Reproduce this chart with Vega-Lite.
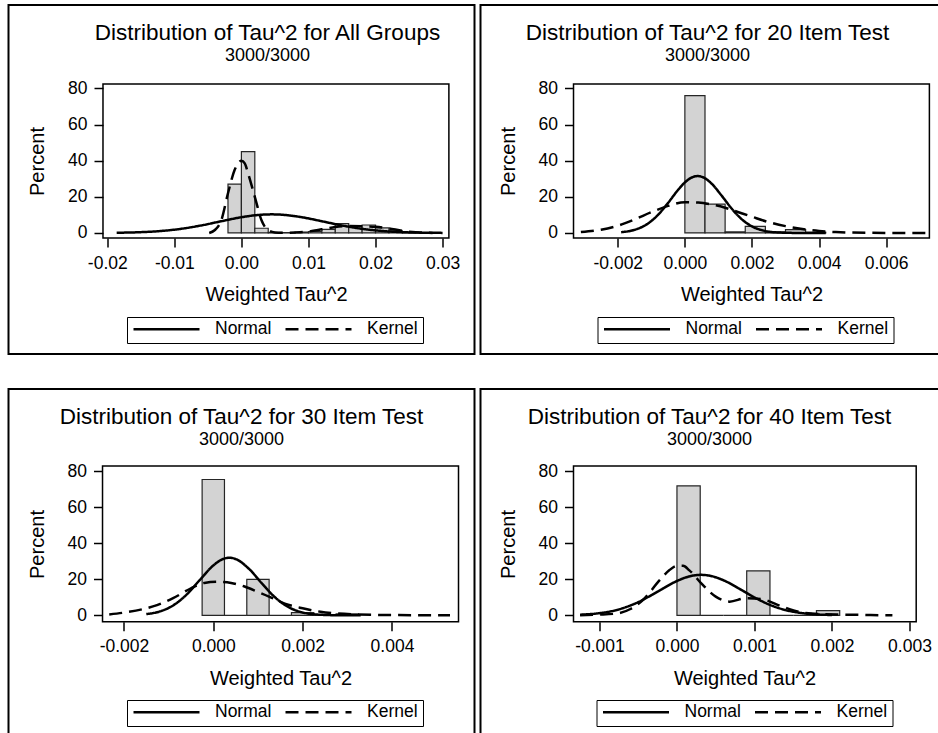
{
"$schema": "https://vega.github.io/schema/vega-lite/v6.json",
"background": "white",
"padding": {"left": 7.5, "top": 4, "right": 0, "bottom": 0},
"columns": 2,
"spacing": {"row": 33, "column": 4},
"resolve": {"scale": {"strokeDash": "independent"}, "legend": {"strokeDash": "independent"}},
"datasets": {
"bars": [
{"panel":"p1","lo":-0.002,"hi":0.0,"pct":27},
{"panel":"p1","lo":0.0,"hi":0.002,"pct":45},
{"panel":"p1","lo":0.002,"hi":0.004,"pct":2.6},
{"panel":"p1","lo":0.004,"hi":0.006,"pct":0.3},
{"panel":"p1","lo":0.006,"hi":0.008,"pct":0.2},
{"panel":"p1","lo":0.008,"hi":0.010,"pct":0.5},
{"panel":"p1","lo":0.010,"hi":0.012,"pct":0.8},
{"panel":"p1","lo":0.012,"hi":0.014,"pct":2.0},
{"panel":"p1","lo":0.014,"hi":0.016,"pct":5.2},
{"panel":"p1","lo":0.016,"hi":0.018,"pct":3.6},
{"panel":"p1","lo":0.018,"hi":0.020,"pct":4.4},
{"panel":"p1","lo":0.020,"hi":0.022,"pct":2.8},
{"panel":"p1","lo":0.022,"hi":0.024,"pct":1.2},
{"panel":"p1","lo":0.024,"hi":0.026,"pct":0.3},
{"panel":"p2","lo":0.0,"hi":0.0006,"pct":76},
{"panel":"p2","lo":0.0006,"hi":0.0012,"pct":16},
{"panel":"p2","lo":0.0012,"hi":0.0018,"pct":0.6},
{"panel":"p2","lo":0.0018,"hi":0.0024,"pct":3.6},
{"panel":"p2","lo":0.0024,"hi":0.003,"pct":0.6},
{"panel":"p2","lo":0.003,"hi":0.0036,"pct":1.8},
{"panel":"p2","lo":0.0036,"hi":0.0042,"pct":0.4},
{"panel":"p3","lo":-0.00025,"hi":0.00025,"pct":75.5},
{"panel":"p3","lo":0.00025,"hi":0.00075,"pct":0},
{"panel":"p3","lo":0.00075,"hi":0.00125,"pct":20},
{"panel":"p3","lo":0.00125,"hi":0.00175,"pct":0},
{"panel":"p3","lo":0.00175,"hi":0.00225,"pct":1.5},
{"panel":"p3","lo":0.00225,"hi":0.00275,"pct":0.4},
{"panel":"p3","lo":0.00275,"hi":0.00325,"pct":0.8},
{"panel":"p4","lo":0.0,"hi":0.0003,"pct":72},
{"panel":"p4","lo":0.0003,"hi":0.0006,"pct":0},
{"panel":"p4","lo":0.0006,"hi":0.0009,"pct":0},
{"panel":"p4","lo":0.0009,"hi":0.0012,"pct":24.7},
{"panel":"p4","lo":0.0012,"hi":0.0015,"pct":0},
{"panel":"p4","lo":0.0015,"hi":0.0018,"pct":0},
{"panel":"p4","lo":0.0018,"hi":0.0021,"pct":2.6}
],
"curves": [
{"panel":"p1","dist":"Normal","tau2":-0.0186,"pct":0.13},
{"panel":"p1","dist":"Normal","tau2":-0.015,"pct":0.45},
{"panel":"p1","dist":"Normal","tau2":-0.012,"pct":1.1},
{"panel":"p1","dist":"Normal","tau2":-0.009,"pct":2.3},
{"panel":"p1","dist":"Normal","tau2":-0.006,"pct":4.16},
{"panel":"p1","dist":"Normal","tau2":-0.003,"pct":6.49},
{"panel":"p1","dist":"Normal","tau2":0.0,"pct":8.72},
{"panel":"p1","dist":"Normal","tau2":0.003,"pct":10.11},
{"panel":"p1","dist":"Normal","tau2":0.0045,"pct":10.3},
{"panel":"p1","dist":"Normal","tau2":0.006,"pct":10.11},
{"panel":"p1","dist":"Normal","tau2":0.009,"pct":8.72},
{"panel":"p1","dist":"Normal","tau2":0.012,"pct":6.49},
{"panel":"p1","dist":"Normal","tau2":0.015,"pct":4.16},
{"panel":"p1","dist":"Normal","tau2":0.018,"pct":2.3},
{"panel":"p1","dist":"Normal","tau2":0.021,"pct":1.1},
{"panel":"p1","dist":"Normal","tau2":0.024,"pct":0.45},
{"panel":"p1","dist":"Normal","tau2":0.027,"pct":0.16},
{"panel":"p1","dist":"Normal","tau2":0.030,"pct":0.05},
{"panel":"p1","dist":"Kernel","tau2":-0.0048,"pct":0},
{"panel":"p1","dist":"Kernel","tau2":-0.004,"pct":1.5},
{"panel":"p1","dist":"Kernel","tau2":-0.003,"pct":7},
{"panel":"p1","dist":"Kernel","tau2":-0.002,"pct":22},
{"panel":"p1","dist":"Kernel","tau2":-0.001,"pct":35},
{"panel":"p1","dist":"Kernel","tau2":-0.0005,"pct":38.5},
{"panel":"p1","dist":"Kernel","tau2":0.0,"pct":40},
{"panel":"p1","dist":"Kernel","tau2":0.0005,"pct":38.5},
{"panel":"p1","dist":"Kernel","tau2":0.001,"pct":33},
{"panel":"p1","dist":"Kernel","tau2":0.002,"pct":20},
{"panel":"p1","dist":"Kernel","tau2":0.003,"pct":7},
{"panel":"p1","dist":"Kernel","tau2":0.004,"pct":1.5},
{"panel":"p1","dist":"Kernel","tau2":0.005,"pct":0.3},
{"panel":"p1","dist":"Kernel","tau2":0.006,"pct":0.1},
{"panel":"p1","dist":"Kernel","tau2":0.008,"pct":0.3},
{"panel":"p1","dist":"Kernel","tau2":0.010,"pct":0.8},
{"panel":"p1","dist":"Kernel","tau2":0.012,"pct":2},
{"panel":"p1","dist":"Kernel","tau2":0.014,"pct":3.3},
{"panel":"p1","dist":"Kernel","tau2":0.016,"pct":3.8},
{"panel":"p1","dist":"Kernel","tau2":0.018,"pct":3.7},
{"panel":"p1","dist":"Kernel","tau2":0.020,"pct":3.4},
{"panel":"p1","dist":"Kernel","tau2":0.022,"pct":2.5},
{"panel":"p1","dist":"Kernel","tau2":0.024,"pct":1.2},
{"panel":"p1","dist":"Kernel","tau2":0.026,"pct":0.4},
{"panel":"p1","dist":"Kernel","tau2":0.0285,"pct":0.05},
{"panel":"p2","dist":"Normal","tau2":-0.0019,"pct":0.44},
{"panel":"p2","dist":"Normal","tau2":-0.0015,"pct":1.73},
{"panel":"p2","dist":"Normal","tau2":-0.0011,"pct":5.21},
{"panel":"p2","dist":"Normal","tau2":-0.0008,"pct":10.03},
{"panel":"p2","dist":"Normal","tau2":-0.0005,"pct":16.67},
{"panel":"p2","dist":"Normal","tau2":-0.0002,"pct":23.89},
{"panel":"p2","dist":"Normal","tau2":0.0,"pct":27.97},
{"panel":"p2","dist":"Normal","tau2":0.0002,"pct":30.67},
{"panel":"p2","dist":"Normal","tau2":0.00038,"pct":31.5},
{"panel":"p2","dist":"Normal","tau2":0.0006,"pct":30.27},
{"panel":"p2","dist":"Normal","tau2":0.0008,"pct":27.25},
{"panel":"p2","dist":"Normal","tau2":0.0011,"pct":20.57},
{"panel":"p2","dist":"Normal","tau2":0.0014,"pct":13.39},
{"panel":"p2","dist":"Normal","tau2":0.0017,"pct":7.52},
{"panel":"p2","dist":"Normal","tau2":0.002,"pct":3.64},
{"panel":"p2","dist":"Normal","tau2":0.0024,"pct":1.1},
{"panel":"p2","dist":"Normal","tau2":0.0028,"pct":0.26},
{"panel":"p2","dist":"Normal","tau2":0.0034,"pct":0.02},
{"panel":"p2","dist":"Normal","tau2":0.0042,"pct":0},
{"panel":"p2","dist":"Kernel","tau2":-0.0031,"pct":0.5},
{"panel":"p2","dist":"Kernel","tau2":-0.0025,"pct":1.8},
{"panel":"p2","dist":"Kernel","tau2":-0.002,"pct":4},
{"panel":"p2","dist":"Kernel","tau2":-0.0015,"pct":7.5},
{"panel":"p2","dist":"Kernel","tau2":-0.001,"pct":11.5},
{"panel":"p2","dist":"Kernel","tau2":-0.0005,"pct":15},
{"panel":"p2","dist":"Kernel","tau2":0.0,"pct":17},
{"panel":"p2","dist":"Kernel","tau2":0.0004,"pct":16.8},
{"panel":"p2","dist":"Kernel","tau2":0.0008,"pct":15.8},
{"panel":"p2","dist":"Kernel","tau2":0.0012,"pct":14},
{"panel":"p2","dist":"Kernel","tau2":0.0016,"pct":11.5},
{"panel":"p2","dist":"Kernel","tau2":0.002,"pct":9},
{"panel":"p2","dist":"Kernel","tau2":0.0025,"pct":6},
{"panel":"p2","dist":"Kernel","tau2":0.003,"pct":3.8},
{"panel":"p2","dist":"Kernel","tau2":0.0035,"pct":2.2},
{"panel":"p2","dist":"Kernel","tau2":0.004,"pct":1.1},
{"panel":"p2","dist":"Kernel","tau2":0.0045,"pct":0.5},
{"panel":"p2","dist":"Kernel","tau2":0.005,"pct":0.2},
{"panel":"p2","dist":"Kernel","tau2":0.006,"pct":0.05},
{"panel":"p2","dist":"Kernel","tau2":0.0072,"pct":0},
{"panel":"p3","dist":"Normal","tau2":-0.0015,"pct":0.68},
{"panel":"p3","dist":"Normal","tau2":-0.0012,"pct":2.13},
{"panel":"p3","dist":"Normal","tau2":-0.0009,"pct":5.46},
{"panel":"p3","dist":"Normal","tau2":-0.0006,"pct":11.46},
{"panel":"p3","dist":"Normal","tau2":-0.0003,"pct":19.7},
{"panel":"p3","dist":"Normal","tau2":0.0,"pct":27.7},
{"panel":"p3","dist":"Normal","tau2":0.0002,"pct":31.1},
{"panel":"p3","dist":"Normal","tau2":0.00036,"pct":32},
{"panel":"p3","dist":"Normal","tau2":0.0005,"pct":31.3},
{"panel":"p3","dist":"Normal","tau2":0.0008,"pct":25.8},
{"panel":"p3","dist":"Normal","tau2":0.0011,"pct":17.4},
{"panel":"p3","dist":"Normal","tau2":0.0014,"pct":9.59},
{"panel":"p3","dist":"Normal","tau2":0.0017,"pct":4.33},
{"panel":"p3","dist":"Normal","tau2":0.002,"pct":1.6},
{"panel":"p3","dist":"Normal","tau2":0.0024,"pct":0.31},
{"panel":"p3","dist":"Normal","tau2":0.0028,"pct":0.04},
{"panel":"p3","dist":"Normal","tau2":0.0033,"pct":0},
{"panel":"p3","dist":"Kernel","tau2":-0.00233,"pct":0.5},
{"panel":"p3","dist":"Kernel","tau2":-0.002,"pct":1.5},
{"panel":"p3","dist":"Kernel","tau2":-0.0016,"pct":3.3},
{"panel":"p3","dist":"Kernel","tau2":-0.00126,"pct":5.7},
{"panel":"p3","dist":"Kernel","tau2":-0.0009,"pct":9.5},
{"panel":"p3","dist":"Kernel","tau2":-0.0005,"pct":15},
{"panel":"p3","dist":"Kernel","tau2":-0.0002,"pct":18},
{"panel":"p3","dist":"Kernel","tau2":0.0001,"pct":18.6},
{"panel":"p3","dist":"Kernel","tau2":0.0004,"pct":18},
{"panel":"p3","dist":"Kernel","tau2":0.0007,"pct":16},
{"panel":"p3","dist":"Kernel","tau2":0.001,"pct":13},
{"panel":"p3","dist":"Kernel","tau2":0.00126,"pct":10.3},
{"panel":"p3","dist":"Kernel","tau2":0.0016,"pct":6.5},
{"panel":"p3","dist":"Kernel","tau2":0.002,"pct":3.9},
{"panel":"p3","dist":"Kernel","tau2":0.0024,"pct":2},
{"panel":"p3","dist":"Kernel","tau2":0.00274,"pct":1.1},
{"panel":"p3","dist":"Kernel","tau2":0.0032,"pct":0.5},
{"panel":"p3","dist":"Kernel","tau2":0.004,"pct":0.15},
{"panel":"p3","dist":"Kernel","tau2":0.0047,"pct":0.05},
{"panel":"p3","dist":"Kernel","tau2":0.0053,"pct":0},
{"panel":"p4","dist":"Normal","tau2":-0.00125,"pct":0.35},
{"panel":"p4","dist":"Normal","tau2":-0.001,"pct":1.19},
{"panel":"p4","dist":"Normal","tau2":-0.00075,"pct":3.28},
{"panel":"p4","dist":"Normal","tau2":-0.0005,"pct":7.31},
{"panel":"p4","dist":"Normal","tau2":-0.00025,"pct":13.14},
{"panel":"p4","dist":"Normal","tau2":0.0,"pct":19.08},
{"panel":"p4","dist":"Normal","tau2":0.00015,"pct":21.53},
{"panel":"p4","dist":"Normal","tau2":0.00031,"pct":22.5},
{"panel":"p4","dist":"Normal","tau2":0.00045,"pct":21.76},
{"panel":"p4","dist":"Normal","tau2":0.0006,"pct":19.48},
{"panel":"p4","dist":"Normal","tau2":0.0008,"pct":14.91},
{"panel":"p4","dist":"Normal","tau2":0.001,"pct":9.95},
{"panel":"p4","dist":"Normal","tau2":0.0012,"pct":5.79},
{"panel":"p4","dist":"Normal","tau2":0.0014,"pct":2.93},
{"panel":"p4","dist":"Normal","tau2":0.0016,"pct":1.3},
{"panel":"p4","dist":"Normal","tau2":0.0018,"pct":0.5},
{"panel":"p4","dist":"Normal","tau2":0.002,"pct":0.17},
{"panel":"p4","dist":"Kernel","tau2":-0.00125,"pct":0.1},
{"panel":"p4","dist":"Kernel","tau2":-0.001,"pct":0.4},
{"panel":"p4","dist":"Kernel","tau2":-0.00078,"pct":1.0},
{"panel":"p4","dist":"Kernel","tau2":-0.0006,"pct":3.5},
{"panel":"p4","dist":"Kernel","tau2":-0.00044,"pct":8.5},
{"panel":"p4","dist":"Kernel","tau2":-0.00022,"pct":19.7},
{"panel":"p4","dist":"Kernel","tau2":-0.0001,"pct":25},
{"panel":"p4","dist":"Kernel","tau2":0.0,"pct":27.5},
{"panel":"p4","dist":"Kernel","tau2":0.00008,"pct":27.5},
{"panel":"p4","dist":"Kernel","tau2":0.00016,"pct":25},
{"panel":"p4","dist":"Kernel","tau2":0.00033,"pct":17},
{"panel":"p4","dist":"Kernel","tau2":0.0005,"pct":10.4},
{"panel":"p4","dist":"Kernel","tau2":0.00068,"pct":7.6},
{"panel":"p4","dist":"Kernel","tau2":0.00089,"pct":9.5},
{"panel":"p4","dist":"Kernel","tau2":0.0011,"pct":8.9},
{"panel":"p4","dist":"Kernel","tau2":0.00136,"pct":4.8},
{"panel":"p4","dist":"Kernel","tau2":0.00162,"pct":1.5},
{"panel":"p4","dist":"Kernel","tau2":0.00188,"pct":0.6},
{"panel":"p4","dist":"Kernel","tau2":0.00214,"pct":0.4},
{"panel":"p4","dist":"Kernel","tau2":0.0025,"pct":0.15},
{"panel":"p4","dist":"Kernel","tau2":0.00278,"pct":0}
]
},
"concat": [
{
"width": 466, "height": 349,
"title": {"text": "Distribution of Tau^2 for All Groups", "subtitle": "3000/3000", "offset": -60, "dx": 26},
"layer": [
{"data": {"name": "bars"}, "transform": [{"filter": "datum.panel == 'p1'"}],
 "mark": {"type": "rect", "fill": "#d3d3d3", "stroke": "#262626", "strokeWidth": 1.2},
 "encoding": {
  "x": {"field": "lo", "type": "quantitative", "scale": {"domain": [-0.03473, 0.03476], "nice": false, "zero": false},
        "axis": {"title": "Weighted Tau^2", "titleX": 267.5, "values": [-0.02, -0.01, 0, 0.01, 0.02, 0.03], "format": ".2f", "offset": -116}},
  "x2": {"field": "hi"},
  "y": {"field": "pct", "type": "quantitative", "scale": {"domain": [-67.0, 126.2], "nice": false, "zero": false},
        "axis": {"title": "Percent", "titleY": 156, "values": [0, 20, 40, 60, 80], "offset": -94.5}},
  "y2": {"datum": 0}}},
{"data": {"name": "curves"}, "transform": [{"filter": "datum.panel == 'p1'"}],
 "mark": {"type": "line", "color": "black", "strokeWidth": 2.5, "interpolate": "monotone"},
 "encoding": {
  "x": {"field": "tau2", "type": "quantitative"},
  "y": {"field": "pct", "type": "quantitative"},
  "strokeDash": {"field": "dist", "type": "nominal", "scale": {"domain": ["Normal", "Kernel"], "range": [[1, 0], [13, 7]]},
     "legend": {"title": null, "orient": "none", "legendX": 118.5, "legendY": 312}}}},
{"data": {"values": [{}]},
 "mark": {"type": "rect", "filled": false, "stroke": "black", "strokeWidth": 1.5},
 "encoding": {"x": {"datum": -0.02064}, "x2": {"datum": 0.03094}, "y": {"datum": -2.77}, "y2": {"datum": 82.5}}}
]
},
{
"width": 466, "height": 349,
"title": {"text": "Distribution of Tau^2 for 20 Item Test", "subtitle": "3000/3000", "offset": -60, "dx": -6},
"layer": [
{"data": {"name": "bars"}, "transform": [{"filter": "datum.panel == 'p2'"}],
 "mark": {"type": "rect", "fill": "#d3d3d3", "stroke": "#262626", "strokeWidth": 1.2},
 "encoding": {
  "x": {"field": "lo", "type": "quantitative", "scale": {"domain": [-0.006093, 0.0078], "nice": false, "zero": false},
        "axis": {"title": "Weighted Tau^2", "titleX": 271, "values": [-0.002, 0, 0.002, 0.004, 0.006], "format": ".3f", "offset": -116}},
  "x2": {"field": "hi"},
  "y": {"field": "pct", "type": "quantitative", "scale": {"domain": [-67.0, 126.2], "nice": false, "zero": false},
        "axis": {"title": "Percent", "titleY": 156, "values": [0, 20, 40, 60, 80], "offset": -93}},
  "y2": {"datum": 0}}},
{"data": {"name": "curves"}, "transform": [{"filter": "datum.panel == 'p2'"}],
 "mark": {"type": "line", "color": "black", "strokeWidth": 2.5, "interpolate": "monotone"},
 "encoding": {
  "x": {"field": "tau2", "type": "quantitative"},
  "y": {"field": "pct", "type": "quantitative"},
  "strokeDash": {"field": "dist", "type": "nominal", "scale": {"domain": ["Normal", "Kernel"], "range": [[1, 0], [13, 7]]},
     "legend": {"title": null, "orient": "none", "legendX": 117, "legendY": 312}}}},
{"data": {"values": [{}]},
 "mark": {"type": "rect", "filled": false, "stroke": "black", "strokeWidth": 1.5},
 "encoding": {"x": {"datum": -0.00332}, "x2": {"datum": 0.00729}, "y": {"datum": -2.77}, "y2": {"datum": 82.5}}}
]
},
{
"width": 466, "height": 349,
"title": {"text": "Distribution of Tau^2 for 30 Item Test", "subtitle": "3000/3000", "offset": -60, "dx": 0},
"layer": [
{"data": {"name": "bars"}, "transform": [{"filter": "datum.panel == 'p3'"}],
 "mark": {"type": "rect", "fill": "#d3d3d3", "stroke": "#262626", "strokeWidth": 1.2},
 "encoding": {
  "x": {"field": "lo", "type": "quantitative", "scale": {"domain": [-0.004585, 0.005848], "nice": false, "zero": false},
        "axis": {"title": "Weighted Tau^2", "titleX": 272, "values": [-0.002, 0, 0.002, 0.004], "format": ".3f", "offset": -116.3}},
  "x2": {"field": "hi"},
  "y": {"field": "pct", "type": "quantitative", "scale": {"domain": [-68.2, 125.8], "nice": false, "zero": false},
        "axis": {"title": "Percent", "titleY": 155, "values": [0, 20, 40, 60, 80], "offset": -94}},
  "y2": {"datum": 0}}},
{"data": {"name": "curves"}, "transform": [{"filter": "datum.panel == 'p3'"}],
 "mark": {"type": "line", "color": "black", "strokeWidth": 2.5, "interpolate": "monotone"},
 "encoding": {
  "x": {"field": "tau2", "type": "quantitative"},
  "y": {"field": "pct", "type": "quantitative"},
  "strokeDash": {"field": "dist", "type": "nominal", "scale": {"domain": ["Normal", "Kernel"], "range": [[1, 0], [13, 7]]},
     "legend": {"title": null, "orient": "none", "legendX": 118.5, "legendY": 311}}}},
{"data": {"values": [{}]},
 "mark": {"type": "rect", "filled": false, "stroke": "black", "strokeWidth": 1.5},
 "encoding": {"x": {"datum": -0.00248}, "x2": {"datum": 0.00549}, "y": {"datum": -3.56}, "y2": {"datum": 83.0}}}
]
},
{
"width": 466, "height": 349,
"title": {"text": "Distribution of Tau^2 for 40 Item Test", "subtitle": "3000/3000", "offset": -60, "dx": -4},
"layer": [
{"data": {"name": "bars"}, "transform": [{"filter": "datum.panel == 'p4'"}],
 "mark": {"type": "rect", "fill": "#d3d3d3", "stroke": "#262626", "strokeWidth": 1.2},
 "encoding": {
  "x": {"field": "lo", "type": "quantitative", "scale": {"domain": [-0.002535, 0.003478], "nice": false, "zero": false},
        "axis": {"title": "Weighted Tau^2", "titleX": 264, "values": [-0.001, 0, 0.001, 0.002, 0.003], "format": ".3f", "offset": -116.3}},
  "x2": {"field": "hi"},
  "y": {"field": "pct", "type": "quantitative", "scale": {"domain": [-68.2, 125.8], "nice": false, "zero": false},
        "axis": {"title": "Percent", "titleY": 155, "values": [0, 20, 40, 60, 80], "offset": -93}},
  "y2": {"datum": 0}}},
{"data": {"name": "curves"}, "transform": [{"filter": "datum.panel == 'p4'"}],
 "mark": {"type": "line", "color": "black", "strokeWidth": 2.5, "interpolate": "monotone"},
 "encoding": {
  "x": {"field": "tau2", "type": "quantitative"},
  "y": {"field": "pct", "type": "quantitative"},
  "strokeDash": {"field": "dist", "type": "nominal", "scale": {"domain": ["Normal", "Kernel"], "range": [[1, 0], [13, 7]]},
     "legend": {"title": null, "orient": "none", "legendX": 116, "legendY": 311}}}},
{"data": {"values": [{}]},
 "mark": {"type": "rect", "filled": false, "stroke": "black", "strokeWidth": 1.5},
 "encoding": {"x": {"datum": -0.001335}, "x2": {"datum": 0.003087}, "y": {"datum": -3.56}, "y2": {"datum": 83.0}}}
]
}
],
"config": {
 "font": "Liberation Sans",
 "locale": {"number": {"decimal": ".", "thousands": ",", "grouping": [3], "currency": ["$", ""], "minus": "-"}},
 "view": {"stroke": "black", "strokeWidth": 2, "fill": "white"},
 "title": {"font": "Liberation Sans", "fontSize": 22.5, "fontWeight": "normal", "color": "black", "subtitleFont": "Liberation Sans", "subtitleFontSize": 18, "subtitleColor": "black", "subtitlePadding": 3, "anchor": "middle", "frame": "group"},
 "axis": {"grid": false, "domain": false, "tickSize": 9, "tickWidth": 1.5, "tickColor": "black", "labelFont": "Liberation Sans", "labelFontSize": 17.5, "labelColor": "black", "labelPadding": 7, "labelFlush": false, "labelOverlap": false, "titleFont": "Liberation Sans", "titleFontSize": 20, "titleFontWeight": "normal", "titleColor": "black"},
 "axisX": {"titlePadding": 13},
 "axisY": {"titlePadding": 20},
 "legend": {"direction": "horizontal", "symbolType": "stroke", "symbolSize": 4356, "symbolStrokeWidth": 2.5, "symbolStrokeColor": "black", "clipHeight": 14, "labelFont": "Liberation Sans", "labelFontSize": 17.5, "labelColor": "black", "labelOffset": 14, "columnPadding": 12, "strokeColor": "black", "fillColor": "white", "padding": 5, "cornerRadius": 0}
}
}
